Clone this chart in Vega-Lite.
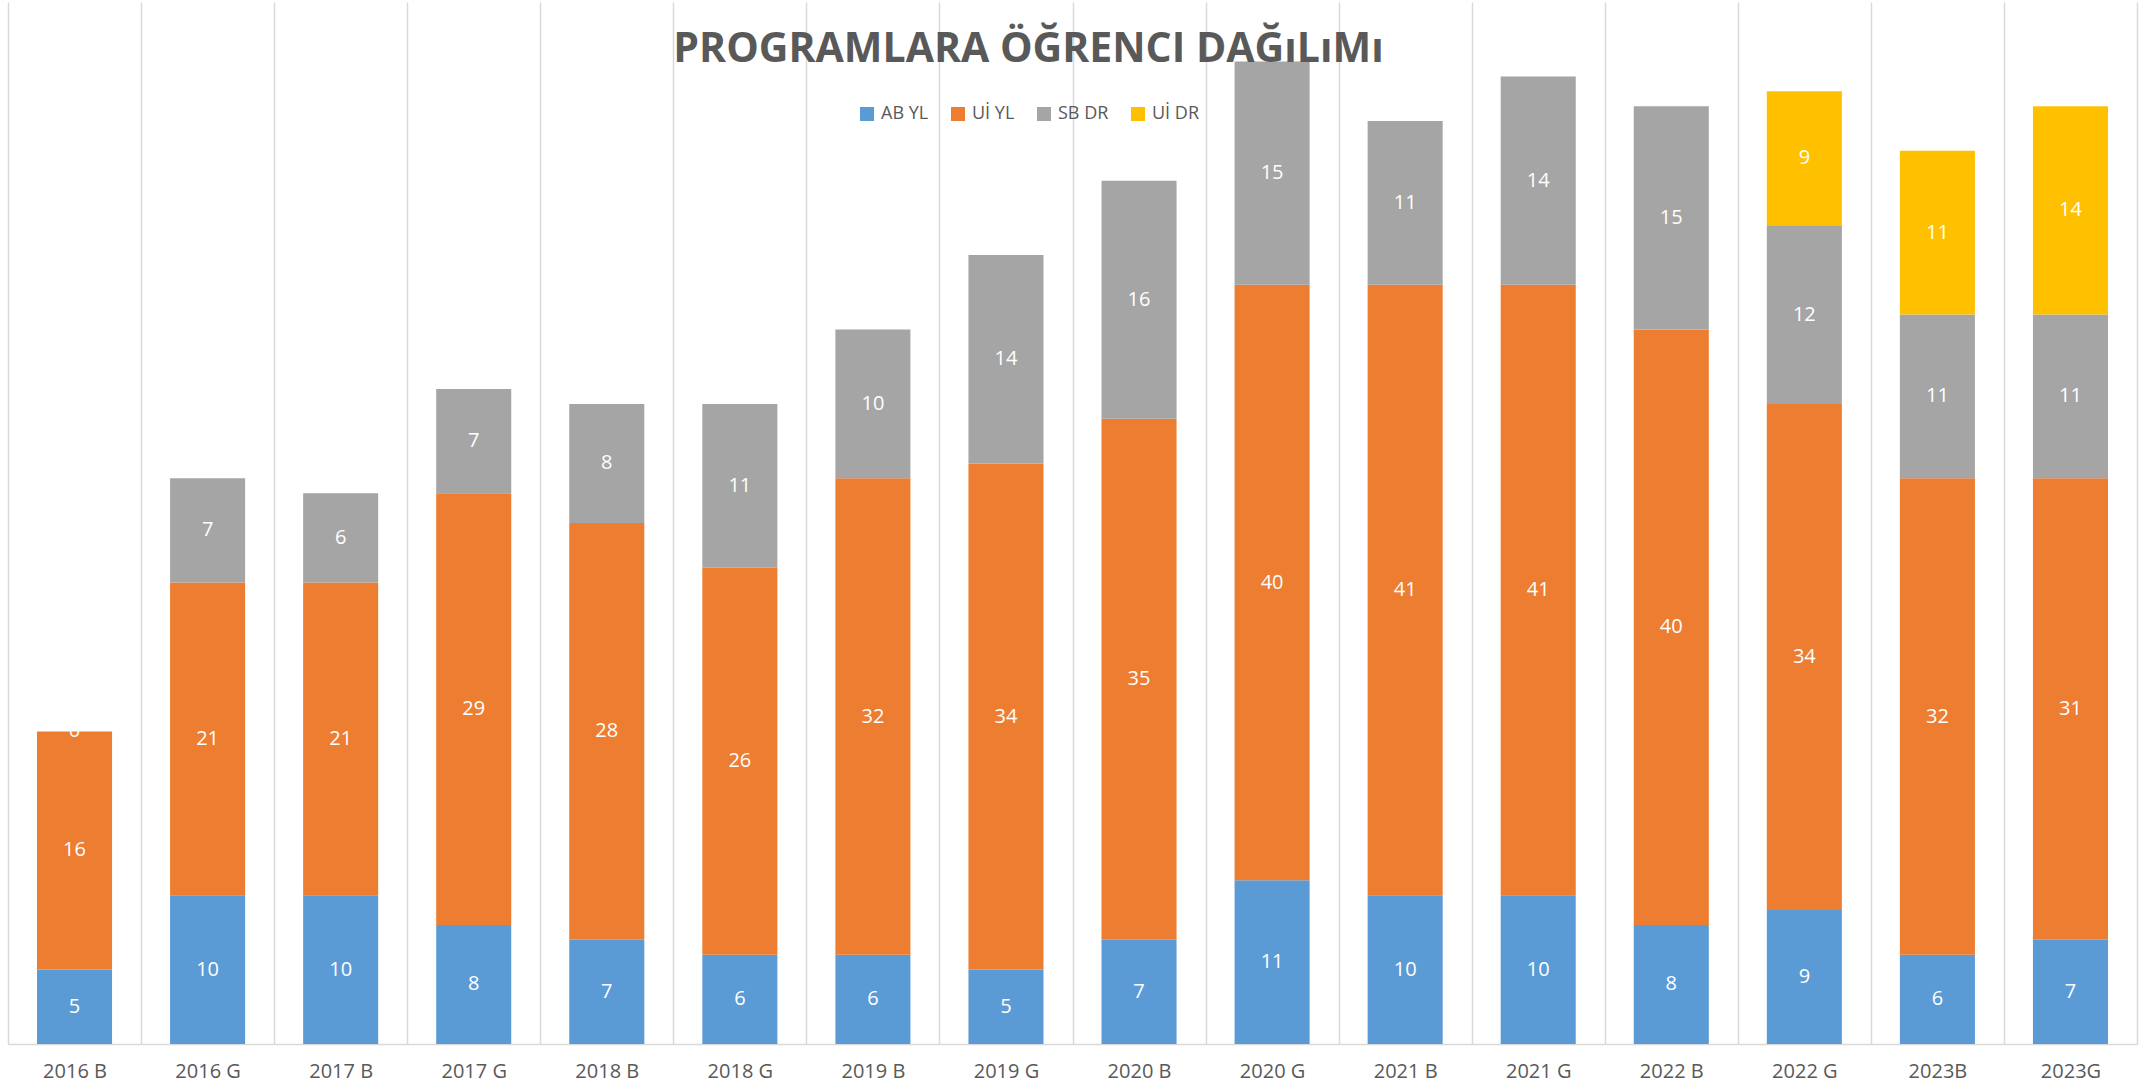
{
  "$schema": "https://vega.github.io/schema/vega-lite/v6.json",
  "width": 2129,
  "height": 1042,
  "autosize": {"type": "none"},
  "padding": {"left": 8, "top": 2, "right": 12, "bottom": 45},
  "background": "white",
  "title": {
    "text": "PROGRAMLARA ÖĞRENCI DAĞıLıMı",
    "font": "Open Sans",
    "fontSize": 41,
    "fontWeight": "bold",
    "color": "#595959",
    "anchor": "middle",
    "frame": "group",
    "baseline": "middle",
    "offset": -46,
    "dx": -44,
    "dy": 43
  },
  "data": {
    "values": [
      {"cat": "2016 B", "series": "AB YL", "value": 5},
      {"cat": "2016 B", "series": "Uİ YL", "value": 16},
      {"cat": "2016 B", "series": "SB DR", "value": 0},
      {"cat": "2016 G", "series": "AB YL", "value": 10},
      {"cat": "2016 G", "series": "Uİ YL", "value": 21},
      {"cat": "2016 G", "series": "SB DR", "value": 7},
      {"cat": "2017 B", "series": "AB YL", "value": 10},
      {"cat": "2017 B", "series": "Uİ YL", "value": 21},
      {"cat": "2017 B", "series": "SB DR", "value": 6},
      {"cat": "2017 G", "series": "AB YL", "value": 8},
      {"cat": "2017 G", "series": "Uİ YL", "value": 29},
      {"cat": "2017 G", "series": "SB DR", "value": 7},
      {"cat": "2018 B", "series": "AB YL", "value": 7},
      {"cat": "2018 B", "series": "Uİ YL", "value": 28},
      {"cat": "2018 B", "series": "SB DR", "value": 8},
      {"cat": "2018 G", "series": "AB YL", "value": 6},
      {"cat": "2018 G", "series": "Uİ YL", "value": 26},
      {"cat": "2018 G", "series": "SB DR", "value": 11},
      {"cat": "2019 B", "series": "AB YL", "value": 6},
      {"cat": "2019 B", "series": "Uİ YL", "value": 32},
      {"cat": "2019 B", "series": "SB DR", "value": 10},
      {"cat": "2019 G", "series": "AB YL", "value": 5},
      {"cat": "2019 G", "series": "Uİ YL", "value": 34},
      {"cat": "2019 G", "series": "SB DR", "value": 14},
      {"cat": "2020 B", "series": "AB YL", "value": 7},
      {"cat": "2020 B", "series": "Uİ YL", "value": 35},
      {"cat": "2020 B", "series": "SB DR", "value": 16},
      {"cat": "2020 G", "series": "AB YL", "value": 11},
      {"cat": "2020 G", "series": "Uİ YL", "value": 40},
      {"cat": "2020 G", "series": "SB DR", "value": 15},
      {"cat": "2021 B", "series": "AB YL", "value": 10},
      {"cat": "2021 B", "series": "Uİ YL", "value": 41},
      {"cat": "2021 B", "series": "SB DR", "value": 11},
      {"cat": "2021 G", "series": "AB YL", "value": 10},
      {"cat": "2021 G", "series": "Uİ YL", "value": 41},
      {"cat": "2021 G", "series": "SB DR", "value": 14},
      {"cat": "2022 B", "series": "AB YL", "value": 8},
      {"cat": "2022 B", "series": "Uİ YL", "value": 40},
      {"cat": "2022 B", "series": "SB DR", "value": 15},
      {"cat": "2022 G", "series": "AB YL", "value": 9},
      {"cat": "2022 G", "series": "Uİ YL", "value": 34},
      {"cat": "2022 G", "series": "SB DR", "value": 12},
      {"cat": "2022 G", "series": "Uİ DR", "value": 9},
      {"cat": "2023B", "series": "AB YL", "value": 6},
      {"cat": "2023B", "series": "Uİ YL", "value": 32},
      {"cat": "2023B", "series": "SB DR", "value": 11},
      {"cat": "2023B", "series": "Uİ DR", "value": 11},
      {"cat": "2023G", "series": "AB YL", "value": 7},
      {"cat": "2023G", "series": "Uİ YL", "value": 31},
      {"cat": "2023G", "series": "SB DR", "value": 11},
      {"cat": "2023G", "series": "Uİ DR", "value": 14}
    ]
  },
  "transform": [
    {"calculate": "indexof(['AB YL','Uİ YL','SB DR','Uİ DR'], datum.series)", "as": "o"},
    {"stack": "value", "groupby": ["cat"], "sort": [{"field": "o", "order": "ascending"}], "as": ["y0", "y1"]},
    {"calculate": "(datum.y0 + datum.y1) / 2", "as": "ym"}
  ],
  "encoding": {
    "x": {
      "field": "cat",
      "type": "nominal",
      "sort": null,
      "scale": {"paddingInner": 0, "paddingOuter": 0},
      "axis": {
        "title": null,
        "labelAngle": 0,
        "labelFont": "Open Sans",
        "labelFontSize": 20,
        "labelColor": "#595959",
        "labelBaseline": "middle",
        "labelPadding": 27,
        "ticks": false,
        "tickSize": 0,
        "tickBand": "extent",
        "grid": true,
        "gridColor": "#D9D9D9",
        "gridWidth": 1.5,
        "domainColor": "#D9D9D9",
        "domainWidth": 1.5
      }
    }
  },
  "layer": [
    {
      "mark": {"type": "bar", "width": {"band": 0.564}},
      "encoding": {
        "y": {"field": "y1", "type": "quantitative", "scale": {"domain": [0, 70], "nice": false}, "axis": null},
        "y2": {"field": "y0"},
        "color": {
          "field": "series",
          "type": "nominal",
          "scale": {"domain": ["AB YL", "Uİ YL", "SB DR", "Uİ DR"], "range": ["#5B9BD5", "#ED7D31", "#A5A5A5", "#FFC000"]},
          "legend": {
            "title": null,
            "orient": "none",
            "legendX": 850,
            "legendY": 103,
            "direction": "horizontal",
            "symbolType": "square",
            "symbolSize": 196,
            "symbolStrokeWidth": 0,
            "labelFont": "Open Sans",
            "labelFontSize": 18,
            "labelColor": "#595959",
            "labelOffset": 5,
            "columnPadding": 20
          }
        }
      }
    },
    {
      "mark": {"type": "text", "color": "white", "font": "Open Sans", "fontSize": 20, "baseline": "middle", "align": "center"},
      "encoding": {
        "y": {"field": "ym", "type": "quantitative", "scale": {"domain": [0, 70], "nice": false}, "axis": null},
        "text": {"field": "value", "type": "quantitative"}
      }
    }
  ],
  "config": {"view": {"stroke": null}}
}
